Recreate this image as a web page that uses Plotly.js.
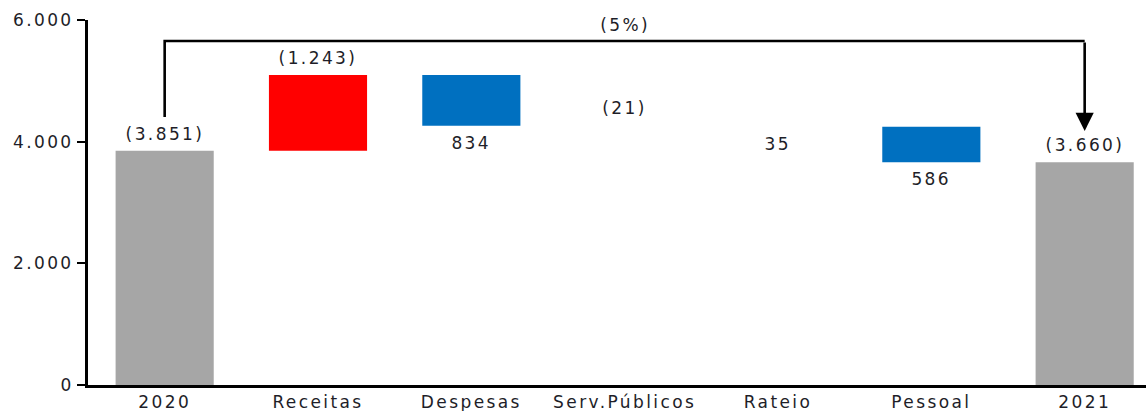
<!DOCTYPE html>
<html>
<head>
<meta charset="utf-8">
<script src="https://cdn.plot.ly/plotly-3.0.1.min.js"></script>
<style>
html,body{margin:0;padding:0;background:#fff;}
#chart{width:1146px;height:411px;}
#chart svg text{letter-spacing:2.4px;}
</style>
</head>
<body>
<div id="chart"></div>
<script>
const categories = ['2020', 'Receitas', 'Despesas', 'Serv.Públicos', 'Rateio', 'Pessoal', '2021'];
const values = [3851, 1243, -834, 21, -35, -586, 3660];
const measures = ['absolute', 'relative', 'relative', 'relative', 'relative', 'relative', 'absolute'];
const labels = ['(3.851)', '(1.243)', '834', '(21)', '35', '586', '(3.660)'];
const barColors = ['#a6a6a6', '#ff0000', '#0070c0', 'rgba(0,0,0,0)', 'rgba(0,0,0,0)', '#0070c0', '#a6a6a6'];
const changeLabel = '(5%)';
const yTicks = [0, 2000, 4000, 6000];

const FONT = 'DejaVu Sans, Verdana, sans-serif';
const TXT = '#1e1e28';

let run = 0;
const bases = [], heights = [], annotations = [];
values.forEach((v, i) => {
  let start, end;
  if (measures[i] === 'absolute') { start = 0; end = v; }
  else { start = run; end = run + v; }
  run = end;
  const lo = Math.min(start, end), hi = Math.max(start, end);
  bases.push(lo);
  heights.push(hi - lo);
  const up = end >= start;
  annotations.push({
    x: i, y: up ? hi : lo, xref: 'x', yref: 'y', text: labels[i], showarrow: false,
    yanchor: 'middle', yshift: up ? 17 : -17,
    font: {family: FONT, size: 17, color: TXT}
  });
});

const startVal = values[0];
const endVal = run;
const bracketY = 5655;

annotations.push({
  x: 3, y: bracketY, xref: 'x', yref: 'y', text: changeLabel,
  showarrow: false, yanchor: 'bottom', yshift: 4,
  font: {family: FONT, size: 17, color: TXT}
});
annotations.push({
  x: 6, y: endVal + 515, xref: 'x', yref: 'y',
  ax: 6, ay: bracketY, axref: 'x', ayref: 'y',
  text: '', showarrow: true, arrowhead: 2, arrowsize: 1.4, arrowwidth: 2.6,
  arrowcolor: '#000', standoff: 0, startstandoff: 0
});

const shapes = [{
  type: 'path', xref: 'x', yref: 'y',
  path: 'M 0,' + (startVal + 555) + ' L 0,' + bracketY + ' L 6,' + bracketY,
  line: {color: '#000', width: 2.6}
}];

const trace = {
  type: 'bar',
  x: categories.map((c, i) => i),
  y: heights,
  base: bases,
  width: 0.64,
  marker: {color: barColors, line: {width: 0}},
  hoverinfo: 'skip'
};

const layout = {
  width: 1146, height: 411,
  margin: {l: 88, r: 0, t: 20, b: 26},
  paper_bgcolor: '#fff', plot_bgcolor: '#fff',
  showlegend: false,
  separators: ',.',
  font: {family: FONT, color: TXT},
  xaxis: {
    range: [-0.5, 6.4], tickvals: categories.map((c, i) => i), ticktext: categories,
    showgrid: false, zeroline: false,
    showline: true, linecolor: '#000', linewidth: 3, ticks: '',
    tickfont: {family: FONT, size: 17, color: TXT}, fixedrange: true
  },
  yaxis: {
    range: [0, 6000], tickvals: yTicks, tickformat: ',d', showgrid: false, zeroline: false,
    showline: true, linecolor: '#000', linewidth: 3, ticks: 'outside', ticklen: 8,
    tickwidth: 2, tickcolor: '#000',
    tickfont: {family: FONT, size: 17, color: TXT}, fixedrange: true
  },
  annotations: annotations,
  shapes: shapes
};

Plotly.newPlot('chart', [trace], layout, {displayModeBar: false, staticPlot: true});
</script>
</body>
</html>
